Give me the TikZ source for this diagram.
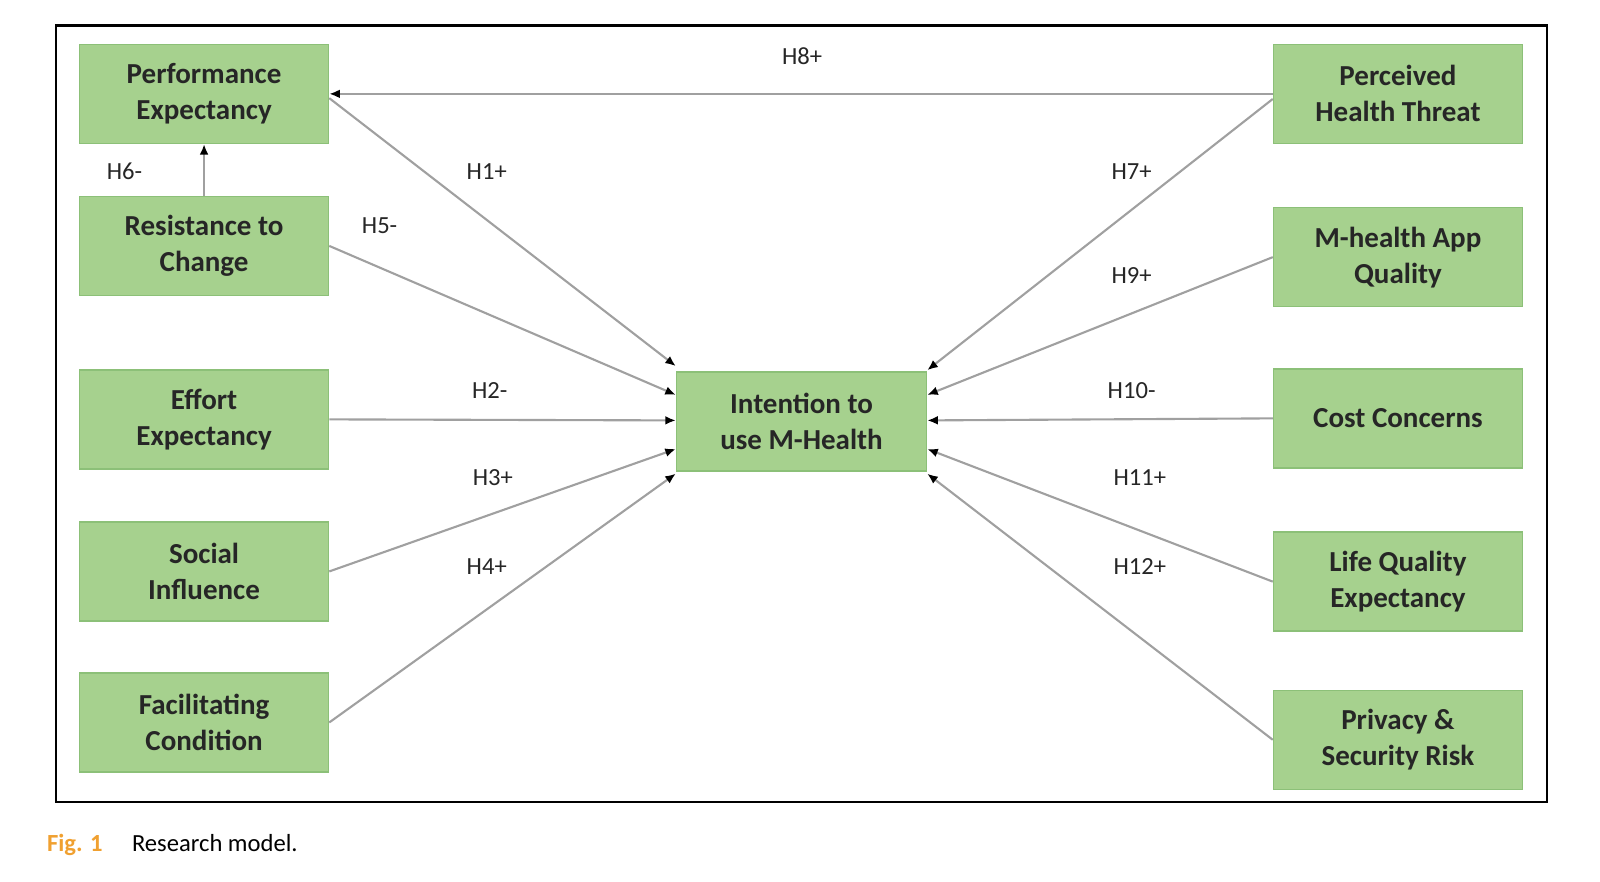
\documentclass[tikz,border=0pt]{standalone}
\usepackage{fontspec}
\setmainfont{Carlito}
\usetikzlibrary{arrows.meta,calc}
\definecolor{boxg}{HTML}{A6D18E}
\definecolor{boxb}{HTML}{8CC078}
\definecolor{lineg}{HTML}{A0A0A0}
\definecolor{figor}{HTML}{F0A030}
\tikzset{
  x=0.0204cm, y=-0.0204cm,
  box/.style={draw=boxb, fill=boxg, line width=0.8pt, minimum width=244*0.0204cm, minimum height=97*0.0204cm, align=center, font=\fontsize{16.5}{20.5}\selectfont\bfseries, text=black!85},
  lab/.style={font=\fontsize{14}{16}\selectfont, text=black!85},
  arr/.style={draw=lineg, line width=1.2pt, -{Latex[length=6pt,width=5pt,color=black]}}
}
\begin{document}
\begin{tikzpicture}
\useasboundingbox (0,0) rectangle (1568,864);
\draw[line width=1.2pt] (55,25) rectangle (1516,786);
\node[box] (pe) at (200,92) {Performance\\Expectancy};
\node[box] (rc) at (200,241) {Resistance to\\Change};
\node[box] (ee) at (200,411) {Effort\\Expectancy};
\node[box] (si) at (200,560) {Social\\Influence};
\node[box] (fc) at (200,708) {Facilitating\\Condition};
\node[box] (pht) at (1370,92) {Perceived\\Health Threat};
\node[box] (maq) at (1370,252) {M-health App\\Quality};
\node[box] (cc) at (1370,410) {Cost Concerns};
\node[box] (lqe) at (1370,570) {Life Quality\\Expectancy};
\node[box] (psr) at (1370,725) {Privacy \&\\Security Risk};
\node[box, minimum width=245*0.0204cm] (im) at (785.5,413) {Intention to\\use M-Health};
% connectors
\draw[arr] (pht.west) -- (pe.east);
\draw[arr] (rc.north) -- (pe.south);
\draw[arr] ($(pe.south east)+(0,-45)$) -- ($(im.north west)+(0,-5)$);
\draw[arr] (rc.east) -- ($(im.west)+(0,-26)$);
\draw[arr] (ee.east) -- ($(im.west)+(0,-1)$);
\draw[arr] (si.east) -- ($(im.west)+(0,27)$);
\draw[arr] (fc.east) -- ($(im.south west)+(0,2)$);
\draw[arr] ($(pht.west)+(0,5)$) -- ($(im.north east)+(0,-1)$);
\draw[arr] (maq.west) -- ($(im.east)+(0,-26)$);
\draw[arr] (cc.west) -- ($(im.east)+(0,-1)$);
\draw[arr] (lqe.west) -- ($(im.east)+(0,27)$);
\draw[arr] (psr.west) -- ($(im.south east)+(0,2)$);
% labels
\node[lab] (l8) at (786,55) {H8+};
\node[lab] (l1) at (477,168) {H1+};
\node[lab] (l5) at (372,221) {H5-};
\node[lab] (l2) at (480,383) {H2-};
\node[lab] (l3) at (483,468) {H3+};
\node[lab] (l4) at (477,555) {H4+};
\node[lab] (l6) at (122,168) {H6-};
\node[lab] (l7) at (1109,168) {H7+};
\node[lab] (l9) at (1109,270) {H9+};
\node[lab] (l10) at (1109,383) {H10-};
\node[lab] (l11) at (1117,468) {H11+};
\node[lab] (l12) at (1117,555) {H12+};
\node[anchor=west, font=\fontsize{14}{16}\selectfont] (cap) at (40,828) {\textcolor{figor}{\bfseries Fig. 1}\hspace{1.2em}Research model.};
\end{tikzpicture}
\end{document}
